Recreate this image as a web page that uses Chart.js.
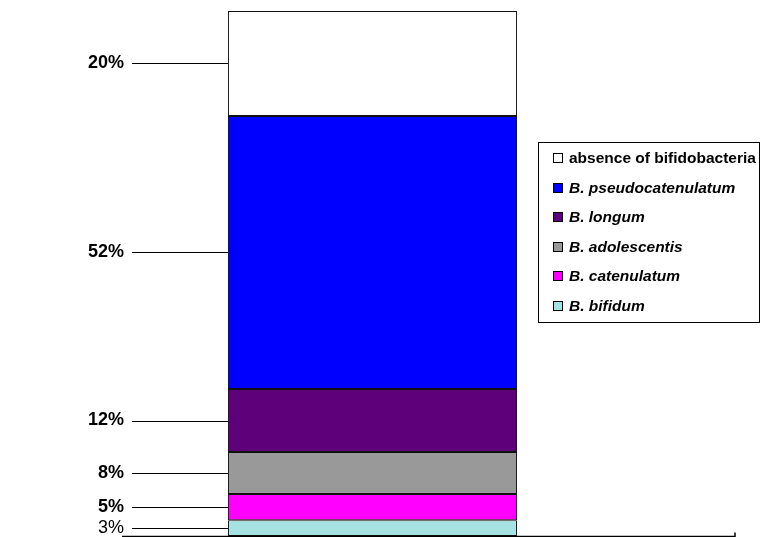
<!DOCTYPE html>
<html lang="en">
  <head>
    <meta charset="UTF-8" />
    <title>Bifidobacteria distribution</title>
    <script src="https://cdn.jsdelivr.net/npm/chart.js"></script>
    <style>
      html,
      body {
        margin: 0;
        background: #fff;
      }
      .chart-box {
        width: 761px;
        height: 537px;
      }
    </style>
  </head>
  <body>
    <div class="chart-box">
      <canvas id="stackChart" width="761" height="537"></canvas>
    </div>
    <script>
      // Data, bottom segment first
      const species = [
        "B. bifidum",
        "B. catenulatum",
        "B. adolescentis",
        "B. longum",
        "B. pseudocatenulatum",
        "absence of bifidobacteria",
      ];
      const shares = [3, 5, 8, 12, 52, 20];
      const shareLabels = ["3%", "5%", "8%", "12%", "52%", "20%"];
      const colors = ["#a6e2e2", "#ff00ff", "#999999", "#5e0079", "#0000ff", "#ffffff"];

      const FONT = '"Liberation Sans", Arial, sans-serif';

      // labels on the left with leader lines to the middle of each segment
      const sideLabels = {
        id: "sideLabels",
        afterDatasetsDraw(chart) {
          const ctx = chart.ctx;
          const y = chart.scales.y;
          const bar = chart.getDatasetMeta(0).data[0];
          const barLeft = bar.x - bar.width / 2;
          let base = 0;
          ctx.save();
          shares.forEach((v, i) => {
            const mid = y.getPixelForValue(base + v / 2);
            base += v;
            ctx.strokeStyle = "#000";
            ctx.lineWidth = 1;
            ctx.beginPath();
            ctx.moveTo(132, Math.round(mid) + 0.5);
            ctx.lineTo(barLeft, Math.round(mid) + 0.5);
            ctx.stroke();
            ctx.fillStyle = "#000";
            ctx.font = (i === 0 ? "" : "bold ") + "18px " + FONT;
            ctx.textAlign = "right";
            ctx.textBaseline = "middle";
            ctx.fillText(shareLabels[i], 124, mid);
          });

          // base line with a small tick at the right end
          const yb = chart.chartArea.bottom + 0.5;
          ctx.lineWidth = 1.5;
          ctx.beginPath();
          ctx.moveTo(122, yb);
          ctx.lineTo(735, yb);
          ctx.lineTo(735, yb - 4);
          ctx.stroke();
          ctx.restore();
        },
      };

      // boxed legend on the right, top entry is the top segment
      const boxLegend = {
        id: "boxLegend",
        afterDraw(chart) {
          const ctx = chart.ctx;
          ctx.save();
          ctx.strokeStyle = "#000";
          ctx.lineWidth = 1;
          ctx.strokeRect(538.5, 142.5, 221, 180);
          const order = species.map((s, i) => i).reverse();
          order.forEach((idx, row) => {
            const cy = 158 + row * 29.5;
            ctx.fillStyle = colors[idx];
            ctx.fillRect(553.5, Math.round(cy) - 4.5, 9, 9);
            ctx.strokeRect(553.5, Math.round(cy) - 4.5, 9, 9);
            ctx.fillStyle = "#000";
            ctx.font = (species[idx].startsWith("B.") ? "italic bold " : "bold ") + "15.5px " + FONT;
            ctx.textAlign = "left";
            ctx.textBaseline = "middle";
            ctx.fillText(species[idx], 569, cy + 1);
          });
          ctx.restore();
        },
      };

      new Chart(document.getElementById("stackChart"), {
        type: "bar",
        data: {
          labels: [""],
          datasets: species.map((name, i) => ({
            label: name,
            data: [shares[i]],
            backgroundColor: colors[i],
            borderColor: "#111",
            borderWidth: 1,
            borderSkipped: false,
            barPercentage: 1,
            categoryPercentage: 0.577,
          })),
        },
        options: {
          responsive: false,
          animation: false,
          layout: { padding: { left: 122, right: 138, top: 11, bottom: 1 } },
          plugins: {
            legend: { display: false },
            tooltip: { enabled: false },
          },
          scales: {
            x: { stacked: true, display: false },
            y: { stacked: true, display: false, min: 0, max: 100 },
          },
        },
        plugins: [sideLabels, boxLegend],
      });
    </script>
  </body>
</html>
